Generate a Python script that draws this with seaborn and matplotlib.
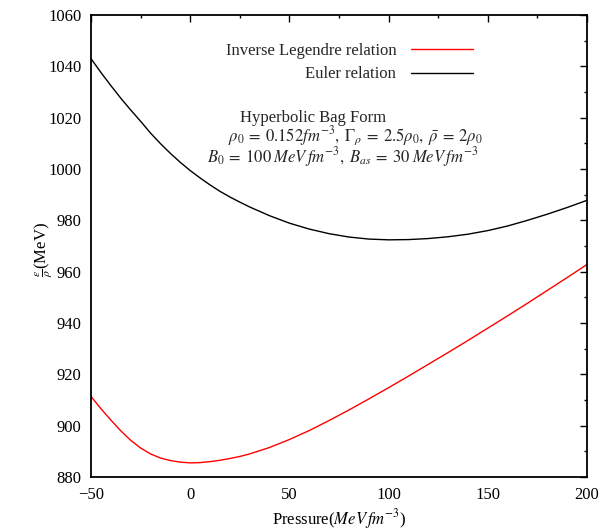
import matplotlib
matplotlib.use("Agg")
import matplotlib.pyplot as plt
import numpy as np
import pandas as pd
import seaborn as sns
from matplotlib.ticker import MultipleLocator

# ---- data ----
pressure = [-50, -45, -40, -35, -30, -25, -20, -15, -10, -5, 0, 5, 10, 15, 20,
            25, 30, 40, 50, 60, 70, 80, 90, 100, 110, 120, 130, 140, 150,
            160, 170, 180, 190, 200]
euler = [1043.0, 1037.6, 1032.5, 1027.6, 1023.0, 1018.6, 1014.0, 1009.9,
         1006.1, 1002.6, 999.4, 996.5, 993.8, 991.3, 989.1, 987.1, 985.2,
         981.8, 978.9, 976.6, 974.8, 973.5, 972.7, 972.4, 972.5, 972.9,
         973.6, 974.6, 976.0, 977.8, 980.0, 982.4, 985.0, 987.8]
legendre = [911.4, 906.6, 902.2, 898.0, 894.3, 891.3, 889.0, 887.4, 886.4,
            885.8, 885.5, 885.6, 886.0, 886.5, 887.2, 888.0, 889.0, 891.5,
            894.6, 898.1, 902.0, 906.1, 910.4, 914.8, 919.3, 923.9, 928.5,
            933.2, 938.0, 942.8, 947.7, 952.7, 957.7, 962.8]
series_names = ["Inverse Legendre relation", "Euler relation"]
series_colors = ["#ff0000", "#000000"]

sns.set_theme(style="white")
plt.rcParams["font.family"] = ["Liberation Serif", "DejaVu Serif"]
plt.rcParams["mathtext.fontset"] = "stix"
plt.rcParams["axes.unicode_minus"] = True

W, H = 611, 531
fig = plt.figure(figsize=(W / 100, H / 100), dpi=100)
fig.patch.set_facecolor("white")
L, R, T, B = 91, 587, 15, 477
ax = fig.add_axes([L / W, 1 - B / H, (R - L) / W, (B - T) / H])

df = pd.DataFrame({
    "P": pressure + pressure,
    "E": legendre + euler,
    "rel": [series_names[0]] * len(pressure) + [series_names[1]] * len(pressure),
})
sns.lineplot(data=df, x="P", y="E", hue="rel", hue_order=series_names,
             palette=dict(zip(series_names, series_colors)), linewidth=1.0,
             ax=ax, legend=True)

ax.set_xlim(-50, 200)
ax.set_ylim(880, 1060)
ax.xaxis.set_major_locator(MultipleLocator(50))
ax.xaxis.set_minor_locator(MultipleLocator(25))
ax.yaxis.set_major_locator(MultipleLocator(20))
ax.yaxis.set_minor_locator(MultipleLocator(10))
ax.tick_params(which="both", direction="in", top=True, right=True,
               colors="black", labelsize=12, width=1.0)
ax.tick_params(which="major", length=5, pad=7)
ax.tick_params(which="minor", length=2.5)
for s in ax.spines.values():
    s.set_color("black")
    s.set_linewidth(1.3)

ax.set_xlabel(r"Pressure($MeV\,fm^{-3}$)", fontsize=12, color="black")
ax.set_ylabel(r"$\frac{\varepsilon}{\rho}$(MeV)", fontsize=12, color="black")
ax.yaxis.set_label_coords(55 / W, 1 - 250 / H, transform=fig.transFigure)
ax.xaxis.set_label_coords((L + R) / 2 / W, 1 - 507 / H, transform=fig.transFigure)

handles, labels = ax.get_legend_handles_labels()
ax.legend(handles, labels, markerfirst=False, frameon=False, fontsize=12,
          handlelength=3.7, handletextpad=0.9, labelspacing=0.45,
          borderpad=0, borderaxespad=0,
          loc="upper right", bbox_to_anchor=(473 / W, 1 - 43 / H),
          bbox_transform=fig.transFigure)

fig.text(313 / W, 1 - 122.5 / H, "Hyperbolic Bag Form", ha="center",
         va="baseline", fontsize=12)
fig.text(355.5 / W, 1 - 141.5 / H,
         r"$\rho_0 \:=\: 0.152fm^{-3},\; \Gamma_\rho \:=\: 2.5\rho_0,\; \bar{\rho} \:=\: 2\rho_0$",
         ha="center", va="baseline", fontsize=12)
fig.text(343 / W, 1 - 162 / H,
         r"$B_0 \:=\: 100\;MeV\,fm^{-3},\; B_{as} \:=\: 30\;MeV\,fm^{-3}$",
         ha="center", va="baseline", fontsize=12)

fig.savefig("out.png", dpi=100)
